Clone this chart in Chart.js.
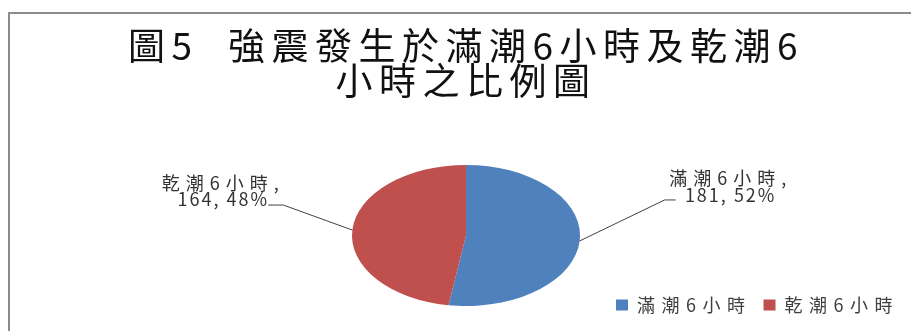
<!DOCTYPE html>
<html lang="zh-Hant">
<head>
<meta charset="utf-8">
<title>強震發生於滿潮6小時及乾潮6小時之比例圖</title>
<script src="https://cdn.jsdelivr.net/npm/chart.js@4/dist/chart.umd.min.js"></script>
<style>
  html, body { margin: 0; padding: 0; background: #fff; }
  #wrap { position: relative; width: 911px; height: 331px; }
</style>
</head>
<body>
<div id="wrap"><canvas id="tideChart"></canvas></div>
<script>
const titleLines = ['圖5  強震發生於滿潮6小時及乾潮6', '小時之比例圖'];
const categories = ['滿潮6小時', '乾潮6小時'];
const quakeCounts = [181, 164];
const sliceColors = ['#4f81bd', '#c0504d'];

const FONT = "'Noto Sans CJK TC', 'Noto Sans', sans-serif";
const STRETCH_X = 1.617;   // pie is drawn as a wide ellipse
const PIE_RADIUS = 70.5;
const SPACING = '6.5px';   // wide letter spacing for title and legend

// leader line and text offsets for each side of the pie
const LEADER = {
    right: { dx: 85, dy: -41, tail: 11, textDx: 55, line1: -22, line2: -5 },
    left:  { dx: -69, dy: -25, tail: -15, textDx: -45, line1: -22, line2: -6 }
};

// grey frame, only the left and top edges show
const framePlugin = {
    id: 'frame',
    beforeLayout(chart) {
        chart.ctx.letterSpacing = SPACING;
    },
    beforeDraw(chart) {
        const ctx = chart.ctx;
        ctx.letterSpacing = SPACING;
        ctx.save();
        ctx.strokeStyle = '#8c8c8c';
        ctx.lineWidth = 2;
        ctx.beginPath();
        ctx.moveTo(9, chart.height);
        ctx.lineTo(9, 13);
        ctx.lineTo(chart.width, 13);
        ctx.stroke();
        ctx.restore();
    }
};

// squash the pie horizontally into an ellipse, then add the slice labels
const ellipsePlugin = {
    id: 'ellipse',
    beforeDatasetsDraw(chart) {
        const arc = chart.getDatasetMeta(0).data[0];
        const ctx = chart.ctx;
        ctx.save();
        ctx.translate(arc.x, arc.y);
        ctx.scale(STRETCH_X, 1);
        ctx.translate(-arc.x, -arc.y);
    },
    afterDatasetsDraw(chart) {
        const ctx = chart.ctx;
        ctx.restore();

        const total = quakeCounts.reduce((a, b) => a + b, 0);
        ctx.save();
        ctx.font = '18px ' + FONT;
        ctx.fillStyle = '#333';
        ctx.strokeStyle = '#404040';
        ctx.lineWidth = 1;
        ctx.textAlign = 'center';
        ctx.textBaseline = 'middle';

        chart.getDatasetMeta(0).data.forEach((arc, i) => {
            const mid = (arc.startAngle + arc.endAngle) / 2;
            const ex = arc.x + arc.outerRadius * STRETCH_X * Math.cos(mid);
            const ey = arc.y + arc.outerRadius * Math.sin(mid);
            const side = Math.cos(mid) >= 0 ? LEADER.right : LEADER.left;
            const bx = ex + side.dx;
            const by = ey + side.dy;
            const tx = bx + side.tail;

            ctx.beginPath();
            ctx.moveTo(ex, ey);
            ctx.lineTo(bx, by);
            ctx.lineTo(tx, by);
            ctx.stroke();

            const pct = Math.round(quakeCounts[i] / total * 100);
            ctx.letterSpacing = '6px';
            ctx.fillText(categories[i] + ',', tx + side.textDx, by + side.line1);
            ctx.letterSpacing = '2px';
            ctx.fillText(quakeCounts[i] + ', ' + pct + '%', tx + side.textDx, by + side.line2);
        });
        ctx.restore();
    }
};

new Chart(document.getElementById('tideChart'), {
    type: 'pie',
    data: {
        labels: categories,
        datasets: [{
            data: quakeCounts,
            backgroundColor: sliceColors,
            borderWidth: 0,
            radius: PIE_RADIUS
        }]
    },
    options: {
        responsive: true,
        maintainAspectRatio: false,
        animation: false,
        events: [],
        layout: { padding: { left: 21, right: 0, top: 0, bottom: 7 } },
        plugins: {
            title: {
                display: true,
                text: titleLines,
                color: '#111',
                font: { family: FONT, size: 37, weight: 'normal', lineHeight: '35px' },
                padding: { top: 28, bottom: 89 }
            },
            legend: {
                position: 'bottom',
                align: 'end',
                labels: {
                    boxWidth: 12,
                    boxHeight: 11,
                    padding: 12,
                    color: '#404040',
                    font: { family: FONT, size: 18 }
                }
            },
            tooltip: { enabled: false }
        }
    },
    plugins: [framePlugin, ellipsePlugin]
});
</script>
</body>
</html>
